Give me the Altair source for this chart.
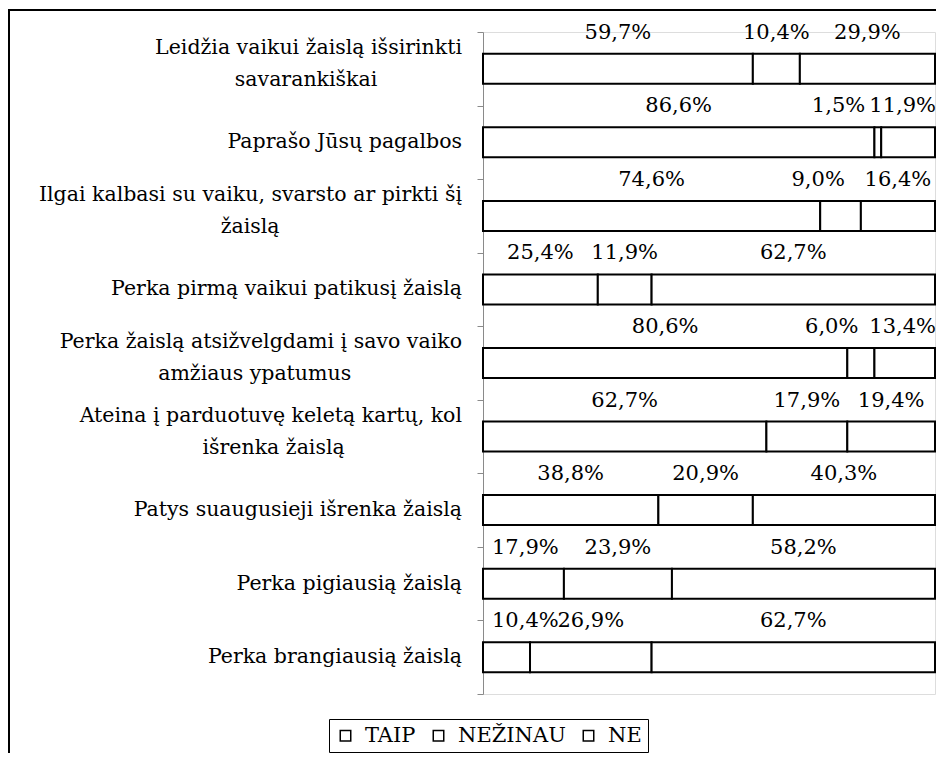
import altair as alt
import pandas as pd

label_lines = [
    ["Leidžia vaikui žaislą išsirinkti", "savarankiškai"],
    ["Paprašo Jūsų pagalbos"],
    ["Ilgai kalbasi su vaiku, svarsto ar pirkti šį", "žaislą"],
    ["Perka pirmą vaikui patikusį žaislą"],
    ["Perka žaislą atsižvelgdami į savo vaiko", "amžiaus ypatumus"],
    ["Ateina į parduotuvę keletą kartų, kol", "išrenka žaislą"],
    ["Patys suaugusieji išrenka žaislą"],
    ["Perka pigiausią žaislą"],
    ["Perka brangiausią žaislą"],
]
series = ["TAIP", "NEŽINAU", "NE"]
taip = [59.7, 86.6, 74.6, 25.4, 80.6, 62.7, 38.8, 17.9, 10.4]
nezinau = [10.4, 1.5, 9.0, 11.9, 6.0, 17.9, 20.9, 23.9, 26.9]
ne = [29.9, 11.9, 16.4, 62.7, 13.4, 19.4, 40.3, 58.2, 62.7]

NBSP = "\u00a0"
ZWSP = "\u200b"  # keeps the trailing no-break spaces from being trimmed

# approximate DejaVu Serif advance widths (em) used to centre the second line
NARROW = set("iljį ,.;:'")
MID = set("trf")
WIDE = set("mw")


def em_width(s):
    w = 0.0
    for ch in s:
        if ch in NARROW:
            w += 0.32
        elif ch in MID:
            w += 0.43
        elif ch in WIDE:
            w += 0.95
        elif ch.isupper():
            w += 0.68
        elif ch in "sšzžc":
            w += 0.52
        else:
            w += 0.61
    return w


def centred(lines):
    # right-aligned labels: pad the second line so it sits centred under the first
    if len(lines) == 1:
        return lines[0]
    n = round((em_width(lines[0]) - em_width(lines[1])) / 2 / 0.318)
    return lines[0] + "|" + lines[1] + NBSP * n + ZWSP


categories = [centred(l) for l in label_lines]
cat_df = pd.DataFrame({"cat": categories,
                       "multi": [len(l) > 1 for l in label_lines]})

rows = []
for i, cat in enumerate(categories):
    start = 0.0
    for k, (s, vals) in enumerate(zip(series, [taip, nezinau, ne])):
        v = vals[i]
        if s == "TAIP" and v < 20:
            place = "left"
        elif s == "NEŽINAU" and v < 10:
            place = "before_end"
        elif s == "NE" and v < 15:
            place = "edge"
        else:
            place = "center"
        rows.append(dict(cat=cat, series=s, order=k, value=v, start=start,
                         end=start + v, mid=start + v / 2,
                         label=f"{v:.1f}%".replace(".", ","), place=place))
        start += v
df = pd.DataFrame(rows)

FONT = "DejaVu Serif"
GRAY = "#8a8a8a"

yenc = alt.Y(
    "cat:N", sort=categories,
    scale=alt.Scale(paddingInner=0, paddingOuter=0),
    axis=alt.Axis(title=None, labels=False, tickBand="extent", tickColor=GRAY,
                  tickSize=6, domainColor=GRAY, grid=False),
)
xscale = alt.Scale(domain=[0, 100], nice=False, zero=True)

bars = alt.Chart(df).mark_bar(size=30, stroke="black", strokeWidth=2).encode(
    y=yenc,
    x=alt.X("start:Q", scale=xscale, axis=None),
    x2="end:Q",
    color=alt.Color("series:N", sort=series,
                    scale=alt.Scale(domain=series, range=["white", "white", "white"]),
                    legend=alt.Legend(title=None, orient="none", legendX=-154, legendY=687,
                                      direction="horizontal", strokeColor="black",
                                      padding=6, labelFont=FONT,
                                      labelFontSize=21, labelColor="black",
                                      symbolType="square", symbolSize=110,
                                      symbolStrokeColor="black", symbolStrokeWidth=1.5,
                                      symbolFillColor="white", columnPadding=12,
                                      labelOffset=9)),
)


def text_layer(place, field, align, dx):
    return alt.Chart(df).transform_filter(alt.datum.place == place).mark_text(
        font=FONT, fontSize=21, dy=-36, dx=dx, baseline="middle", align=align,
        color="black"
    ).encode(y=yenc, x=alt.X(f"{field}:Q", scale=xscale, axis=None), text="label:N")


txt_center = text_layer("center", "mid", "center", 0)
txt_left = text_layer("left", "start", "left", 9)
txt_before = text_layer("before_end", "end", "right", -16)
txt_edge = text_layer("edge", "end", "right", 1)


def cat_layer(multi, dy):
    return alt.Chart(cat_df).transform_filter(alt.datum.multi == multi).mark_text(
        font=FONT, fontSize=20.5, align="right", baseline="middle", lineBreak="|",
        lineHeight=32, dy=dy, color="black"
    ).encode(y=yenc, x=alt.value(-21), text="cat:N")


cat_single = cat_layer(False, 0)
cat_multi = cat_layer(True, -21)

one = pd.DataFrame({"k": [0]})
frame_left = alt.Chart(one).mark_rule(color="black", strokeWidth=2).encode(
    x=alt.value(-474), y=alt.value(-23), y2=alt.value(760))
frame_top = alt.Chart(one).mark_rule(color="black", strokeWidth=2).encode(
    x=alt.value(-475), x2=alt.value(470), y=alt.value(-22))

chart = alt.layer(bars, txt_center, txt_left, txt_before, txt_edge,
                  cat_single, cat_multi, frame_left, frame_top).properties(
    width=452, height=662,
    padding={"left": 475, "top": 24, "right": 1, "bottom": 59},
    autosize=alt.AutoSizeParams(type="none"),
).configure_view(stroke=GRAY, strokeWidth=1).configure(background="white")

chart.save("out.html", embed_options={"renderer": "svg", "actions": False})
